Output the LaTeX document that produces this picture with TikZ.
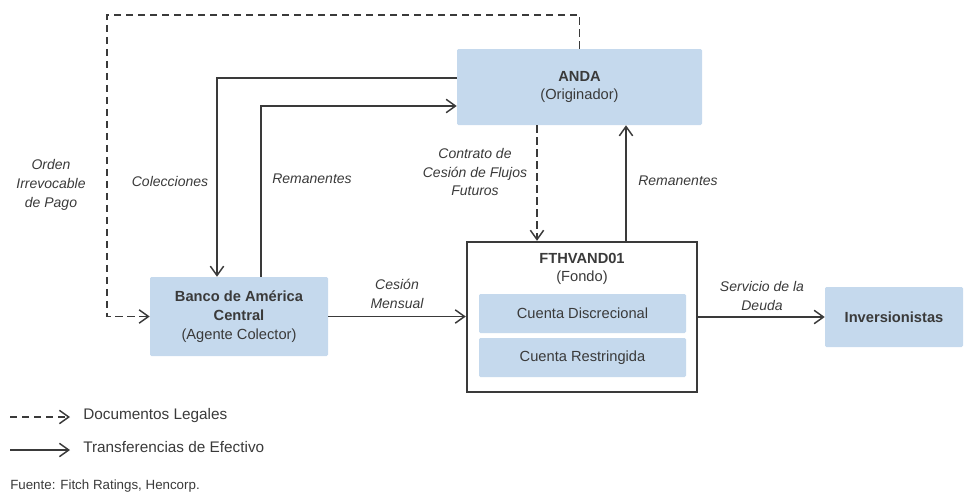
\documentclass[tikz,border=0pt]{standalone}
\usepackage{fontspec}
\setmainfont{Liberation Sans}
\usetikzlibrary{arrows.meta}
\definecolor{boxblue}{HTML}{C5D9ED}
\definecolor{ink}{HTML}{3A3A3A}
\begin{document}
\begin{tikzpicture}[x=0.75pt,y=-0.75pt,
  font=\fontsize{11}{14}\selectfont, text=ink,
  box/.style={fill=boxblue, rounded corners=1pt, draw=none, align=center, inner sep=0pt},
  flow/.style={draw=ink, line width=1.1pt, -{Straight Barb[length=7pt,width=10pt]}},
  legal/.style={flow, dash pattern=on 5.5pt off 3.5pt},
  lbl/.style={font=\fontsize{10.5}{14}\selectfont\itshape, align=center, text=ink},
  legtxt/.style={anchor=base west, inner sep=0pt, font=\fontsize{11.5}{14}\selectfont, text=ink}]
\useasboundingbox (0,0) rectangle (966,493);

% boxes
\node[box, minimum width=183.75pt, minimum height=57pt] (anda) at (579.5,87)
  {\textbf{ANDA}\\(Originador)};
\node[box, minimum width=133.5pt, minimum height=59.25pt] (banco) at (239,316.5)
  {\textbf{Banco de América}\\\textbf{Central}\\(Agente Colector)};
\node[draw=ink, line width=1.8pt, fill=white, minimum width=172.5pt, minimum height=112.5pt, inner sep=0pt] (fondo) at (582,317) {};
\node[align=center] (fondot) at (582,269) {\textbf{FTHVAND01}\\(Fondo)};
\node[box, minimum width=155.25pt, minimum height=29.25pt] (cdisc) at (582.5,313.5) {Cuenta Discrecional};
\node[box, minimum width=155.25pt, minimum height=29.25pt] (crest) at (582.5,357.5) {Cuenta Restringida};
\node[box, minimum width=103.5pt, minimum height=45pt] (inv) at (894,317) {\textbf{Inversionistas}};

% helper coordinates
\coordinate (tl) at (107,15);
\coordinate (c1) at (217,78);
\coordinate (r1) at (261,106);
\coordinate (cx) at (537,0);
\coordinate (rx) at (626,0);

% connectors
\draw[legal] (anda.north) |- (tl) |- (banco.west);
\draw[flow] (anda.west |- c1) -| (banco.north -| c1);
\draw[flow] (banco.north -| r1) |- (anda.west |- r1);
\draw[legal] (anda.south -| cx) -- (fondo.north -| cx);
\draw[flow] (fondo.north -| rx) -- (anda.south -| rx);
\draw[flow] (banco.east) -- (fondo.west |- banco.east);
\draw[flow] (fondo.east) -- (inv.west |- fondo.east);

% labels
\node[lbl] (lorden) at (51,185) {Orden\\Irrevocable\\de Pago};
\node[lbl] (lcol) at (170,181) {Colecciones};
\node[lbl] (lrem1) at (312,179) {Remanentes};
\node[lbl] (lcon) at (475,172) {Contrato de\\Cesión de Flujos\\Futuros};
\node[lbl] (lrem2) at (678,181) {Remanentes};
\node[lbl] (lces) at (397,294) {Cesión\\Mensual};
\node[lbl] (lser) at (762,296) {Servicio de la\\Deuda};

% legend
\coordinate (l1a) at (10,417);
\coordinate (l1b) at (70,417);
\coordinate (l2a) at (10,450);
\coordinate (l2b) at (70,450);
\draw[legal] (l1a) -- (l1b);
\draw[flow] (l2a) -- (l2b);
\node[legtxt] (t1) at (83,419) {Documentos Legales};
\node[legtxt] (t2) at (83,452) {Transferencias de Efectivo};
\node[legtxt, font=\fontsize{10}{12}\selectfont] (src) at (10,489) {Fuente: Fitch Ratings, Hencorp.};
\end{tikzpicture}
\end{document}
